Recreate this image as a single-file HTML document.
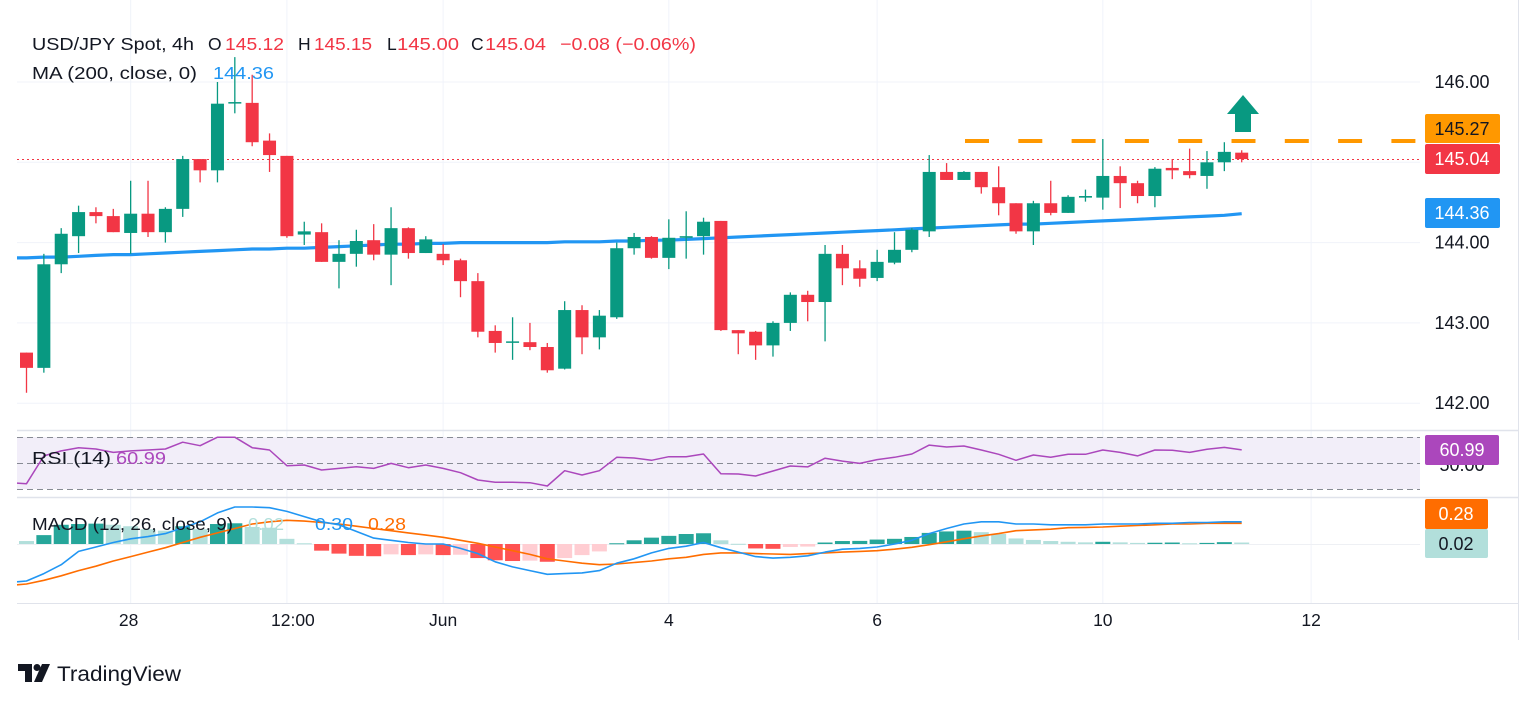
<!DOCTYPE html>
<html><head><meta charset="utf-8"><style>
html,body{margin:0;padding:0;background:#fff;}
svg{display:block;font-family:"Liberation Sans","DejaVu Sans",sans-serif;}
</style></head><body>
<svg id="chart" width="1536" height="704" viewBox="0 0 1536 704" xmlns="http://www.w3.org/2000/svg">
<rect x="0" y="0" width="1536" height="704" fill="#ffffff"/>
<g id="grid"></g>
<rect x="17" y="437" width="1403" height="52" fill="#f2eef9"/>
<g id="rsiLines">
<line x1="17" x2="1420" y1="437.5" y2="437.5" stroke="#878b94" stroke-dasharray="6 4" stroke-width="1"/>
<line x1="17" x2="1420" y1="463.5" y2="463.5" stroke="#878b94" stroke-dasharray="6 4" stroke-width="1"/>
<line x1="17" x2="1420" y1="489.5" y2="489.5" stroke="#878b94" stroke-dasharray="6 4" stroke-width="1"/>
</g>
<g id="panes">
<line x1="17" x2="1518" y1="430.5" y2="430.5" stroke="#e0e3eb" stroke-width="1.5"/>
<line x1="17" x2="1518" y1="497.5" y2="497.5" stroke="#e0e3eb" stroke-width="1.5"/>
<line x1="17" x2="1518" y1="603.5" y2="603.5" stroke="#e0e3eb" stroke-width="1"/>
<line x1="1518.5" x2="1518.5" y1="0" y2="640" stroke="#e0e3eb" stroke-width="1"/>
<line x1="17" x2="1420" y1="544.5" y2="544.5" stroke="#eef0f4" stroke-width="1"/>
</g>
<g id="macdHist"></g>
<g id="macdLines"></g>
<g id="rsiG"></g>
<line x1="17" x2="1420" y1="159.5" y2="159.5" stroke="#f23645" stroke-width="1" stroke-dasharray="2 3"/>
<g id="maG"></g>
<g id="candles"></g>
<line x1="965" x2="1420" y1="141" y2="141" stroke="#ff9800" stroke-width="4" stroke-dasharray="24 29.3"/>
<polygon points="1243,95 1259,114 1251,114 1251,132 1235,132 1235,114 1227,114" fill="#089981"/>

<g font-size="17.5" fill="#131722">
<text x="32" y="50" textLength="162" lengthAdjust="spacingAndGlyphs">USD/JPY Spot, 4h</text>
<text x="208" y="50">O</text><text x="225" y="50" fill="#f23645" textLength="59" lengthAdjust="spacingAndGlyphs">145.12</text>
<text x="298" y="50">H</text><text x="314" y="50" fill="#f23645" textLength="58" lengthAdjust="spacingAndGlyphs">145.15</text>
<text x="387" y="50">L</text><text x="397" y="50" fill="#f23645" textLength="62" lengthAdjust="spacingAndGlyphs">145.00</text>
<text x="471" y="50">C</text><text x="485" y="50" fill="#f23645" textLength="61" lengthAdjust="spacingAndGlyphs">145.04</text>
<text x="560" y="50" fill="#f23645" textLength="136" lengthAdjust="spacingAndGlyphs">−0.08 (−0.06%)</text>
<text x="32" y="79" textLength="165" lengthAdjust="spacingAndGlyphs">MA (200, close, 0)</text>
<text x="213" y="79" fill="#2196f3" textLength="61" lengthAdjust="spacingAndGlyphs">144.36</text>
<text x="32" y="464" textLength="79" lengthAdjust="spacingAndGlyphs">RSI (14)</text>
<text x="116" y="464" fill="#ab47bc" textLength="50" lengthAdjust="spacingAndGlyphs">60.99</text>
<text x="32" y="530" textLength="201" lengthAdjust="spacingAndGlyphs">MACD (12, 26, close, 9)</text>
<text x="248" y="530" fill="#b2dfdb" textLength="36" lengthAdjust="spacingAndGlyphs">0.02</text>
<text x="315" y="530" fill="#2196f3" textLength="38" lengthAdjust="spacingAndGlyphs">0.30</text>
<text x="368" y="530" fill="#ff6d00" textLength="38" lengthAdjust="spacingAndGlyphs">0.28</text>
</g>

<g id="yaxis" font-size="18" fill="#131722"></g>
<g font-size="18">
<rect x="1425" y="114" width="75" height="29" rx="2" fill="#ff9800"/><text x="1462" y="135" text-anchor="middle" fill="#131722">145.27</text>
<rect x="1425" y="144" width="75" height="30" rx="2" fill="#f23645"/><text x="1462" y="165" text-anchor="middle" fill="#fff">145.04</text>
<rect x="1425" y="198" width="75" height="30" rx="2" fill="#2196f3"/><text x="1462" y="219" text-anchor="middle" fill="#fff">144.36</text>
<text x="1462" y="471" text-anchor="middle" fill="#131722">50.00</text>
<rect x="1425" y="435" width="74" height="30" rx="2" fill="#ab47bc"/><text x="1462" y="456" text-anchor="middle" fill="#fff">60.99</text>
<rect x="1425" y="499" width="63" height="30" rx="2" fill="#ff6d00"/><text x="1456" y="520" text-anchor="middle" fill="#fff">0.28</text>
<rect x="1425" y="529" width="63" height="29" rx="2" fill="#b2dfdb"/><text x="1456" y="550" text-anchor="middle" fill="#131722">0.02</text>
</g>
<g id="xaxis" font-size="17.5" fill="#131722"></g>
<g>
<path d="M18 664 h14 v18 h-7 v-11 h-7 z" fill="#131722"/>
<circle cx="37" cy="667.5" r="3.5" fill="#131722"/>
<path d="M42 664 h8 l-8 18 h-8 z" fill="#131722"/>
<text x="57" y="681" font-size="21" fill="#131722" textLength="124" lengthAdjust="spacingAndGlyphs">TradingView</text>
</g>
</svg>
<script>
// ---- data ----
const opens=[142.63,142.44,143.73,144.08,144.38,144.33,144.12,144.36,144.13,144.42,145.04,144.9,145.74,145.74,145.27,145.08,144.1,144.13,143.76,143.86,144.03,143.85,144.18,143.87,143.86,143.78,143.52,142.9,142.76,142.76,142.7,142.43,143.16,142.82,143.07,143.93,144.07,143.81,144.06,144.08,144.27,142.91,142.89,142.72,143.0,143.35,143.26,143.86,143.68,143.56,143.75,143.91,144.14,144.88,144.78,144.88,144.69,144.49,144.14,144.49,144.37,144.56,144.56,144.83,144.74,144.58,144.93,144.89,144.83,145.0,145.12];
const highs=[142.63,143.86,144.18,144.46,144.44,144.42,144.77,144.77,144.44,145.08,145.04,146.0,146.31,146.09,145.36,145.08,144.26,144.24,144.03,144.16,144.23,144.44,144.19,144.08,143.98,143.8,143.62,142.97,143.07,143.0,142.75,143.27,143.22,143.16,144.0,144.12,144.08,144.29,144.39,144.31,144.27,142.91,142.9,143.02,143.38,143.4,143.97,143.97,143.78,143.91,144.13,144.18,145.09,144.99,144.89,144.88,144.95,144.49,144.52,144.77,144.59,144.66,145.29,144.95,144.77,144.94,145.04,145.17,145.14,145.25,145.15];
const lows=[142.13,142.38,143.62,143.87,144.24,144.13,143.86,144.07,144.0,144.32,144.75,144.75,145.61,145.2,144.88,144.06,143.97,143.76,143.43,143.7,143.78,143.47,143.8,143.87,143.72,143.32,142.82,142.63,142.54,142.66,142.38,142.42,142.61,142.67,143.05,143.85,143.8,143.67,143.8,143.85,142.9,142.61,142.54,142.58,142.9,143.02,142.77,143.47,143.45,143.52,143.73,143.88,144.07,144.78,144.78,144.61,144.34,144.11,143.97,144.34,144.37,144.51,144.41,144.43,144.49,144.44,144.79,144.8,144.67,144.89,145.0];
const closes=[142.44,143.73,144.11,144.38,144.33,144.13,144.36,144.13,144.42,145.04,144.9,145.73,145.75,145.25,145.09,144.08,144.14,143.76,143.86,144.02,143.85,144.18,143.87,144.04,143.78,143.52,142.89,142.75,142.77,142.7,142.41,143.16,142.82,143.09,143.93,144.07,143.81,144.06,144.08,144.26,142.91,142.87,142.72,143.0,143.35,143.26,143.86,143.68,143.55,143.76,143.91,144.16,144.88,144.78,144.88,144.69,144.49,144.14,144.49,144.37,144.57,144.58,144.83,144.74,144.58,144.92,144.9,144.84,145.0,145.13,145.04];
const ma200=[143.81,143.82,143.82,143.83,143.84,143.85,143.85,143.86,143.87,143.88,143.89,143.9,143.91,143.92,143.92,143.93,143.93,143.94,143.95,143.96,143.97,143.98,143.98,143.99,143.99,144.0,144.0,144.0,144.0,144.0,144.0,144.01,144.01,144.01,144.02,144.02,144.03,144.03,144.04,144.05,144.06,144.07,144.08,144.09,144.1,144.11,144.12,144.13,144.14,144.15,144.16,144.17,144.18,144.19,144.2,144.21,144.22,144.23,144.23,144.24,144.25,144.26,144.27,144.28,144.29,144.3,144.31,144.32,144.33,144.34,144.36];
const rsi=[34.6,56.3,60.2,62.7,61.7,59.1,60.2,60.9,61.7,67.0,64.3,70.9,70.9,62.7,60.9,48.7,49.2,45.3,46.6,47.9,46.6,50.5,47.1,49.2,46.6,43.2,37.5,35.7,35.7,35.4,32.8,44.8,41.4,44.8,55.2,54.7,52.9,55.7,55.7,57.8,42.4,42.2,40.6,44.5,48.4,47.7,54.5,52.3,50.5,53.4,55.2,57.8,64.8,63.3,64.1,60.9,57.6,52.9,57.0,55.2,57.6,57.6,60.9,59.1,56.3,60.9,60.7,59.1,61.5,63.0,61.0];
const macd=[-0.50,-0.40,-0.28,-0.10,-0.04,0.02,0.07,0.10,0.14,0.22,0.30,0.42,0.50,0.50,0.49,0.44,0.37,0.30,0.26,0.17,0.08,0.05,0.02,0.0,0.0,-0.06,-0.13,-0.24,-0.31,-0.36,-0.41,-0.40,-0.39,-0.36,-0.26,-0.20,-0.12,-0.06,-0.03,0.02,-0.05,-0.11,-0.17,-0.19,-0.18,-0.16,-0.11,-0.07,-0.06,-0.04,0.0,0.05,0.14,0.21,0.27,0.30,0.30,0.27,0.27,0.26,0.26,0.26,0.27,0.27,0.27,0.28,0.28,0.29,0.29,0.30,0.30];
const signal=[-0.54,-0.49,-0.43,-0.36,-0.30,-0.23,-0.17,-0.11,-0.05,0.02,0.09,0.15,0.21,0.27,0.30,0.32,0.31,0.29,0.27,0.24,0.21,0.18,0.15,0.12,0.09,0.05,0.01,-0.04,-0.09,-0.14,-0.20,-0.23,-0.26,-0.28,-0.27,-0.25,-0.23,-0.20,-0.18,-0.14,-0.12,-0.12,-0.13,-0.135,-0.14,-0.13,-0.12,-0.11,-0.10,-0.09,-0.07,-0.045,-0.01,0.03,0.07,0.11,0.14,0.18,0.19,0.20,0.22,0.225,0.23,0.24,0.25,0.26,0.27,0.27,0.28,0.28,0.28];
const hist=[0.04,0.12,0.26,0.27,0.275,0.26,0.24,0.20,0.18,0.24,0.20,0.27,0.28,0.23,0.22,0.07,0.01,-0.09,-0.13,-0.16,-0.165,-0.14,-0.15,-0.14,-0.15,-0.145,-0.19,-0.22,-0.23,-0.225,-0.24,-0.19,-0.15,-0.10,0.01,0.05,0.086,0.11,0.135,0.145,0.05,0.003,-0.06,-0.065,-0.04,-0.035,0.02,0.04,0.042,0.06,0.07,0.095,0.15,0.17,0.18,0.16,0.135,0.075,0.055,0.04,0.03,0.022,0.03,0.022,0.015,0.017,0.02,0.01,0.015,0.025,0.02];
// values of the bar just before the visible window (line enters at left edge)
const prevRsi=[35.5];
const prevMacd=[-0.52];
const prevSignal=[-0.56];
const priceTicks=[146,145,144,143,142];
const priceTickLabels=["146.00","","144.00","143.00","142.00"];
const timeTickIdx=[6,15,24,37,49,62,74];
const timeTickLabels=["28","12:00","Jun","4","6","10","12"];

// ---- scales ----
const NS="http://www.w3.org/2000/svg";
function xAt(i){return 26.5+i*17.36;}
function yP(p){return 82+(146-p)*80.3;}
function yR(r){return 464-(r-50)*1.28;}
function yM(v){return 544-v*74;}
function mk(tag,attrs,parent){const e=document.createElementNS(NS,tag);for(const k in attrs)e.setAttribute(k,attrs[k]);parent.appendChild(e);return e;}

const grid=document.getElementById('grid');
priceTicks.forEach(p=>{
  const l=mk('line',{x1:17,x2:1420,y1:yP(p),y2:yP(p),stroke:'#f0f3fa','stroke-width':1},grid);
  
  
});
const xaxis=document.getElementById('xaxis');
timeTickIdx.forEach((ti,k)=>{
  const x=xAt(ti);
  const l=mk('line',{x1:x,x2:x,y1:0,y2:603,stroke:'#f0f3fa','stroke-width':1},grid);
  
  
  const t=mk('text',{x:x-(k===0?2:0)+(k===1?6:0),y:626,'text-anchor':'middle'},xaxis);
  t.textContent=timeTickLabels[k];
  
  
});
const yaxis=document.getElementById('yaxis');
priceTicks.forEach((p,k)=>{
  if(!priceTickLabels[k])return;
  const t=mk('text',{x:1462,y:yP(p)+6,'text-anchor':'middle'},yaxis);
  t.textContent=priceTickLabels[k];
  
  
});

// candles
const cg=document.getElementById('candles');
for(let i=0;i<opens.length;i++){
  const up=closes[i]>=opens[i];
  const col=up?'#089981':'#f23645';
  const x=xAt(i);
  const g=mk('g',{},cg);
  
  
  mk('line',{x1:x,x2:x,y1:yP(highs[i]),y2:yP(lows[i]),stroke:col,'stroke-width':1.3},g);
  const top=yP(Math.max(opens[i],closes[i])),bot=yP(Math.min(opens[i],closes[i]));
  mk('rect',{x:x-6.5,y:top,width:13,height:Math.max(1.5,bot-top),fill:col},g);
}

// line helper: optional previous value is drawn from left edge (x=17)
function poly(arr,prev,fy,parent,stroke,w,name){
  let pts=arr.map((v,i)=>[xAt(i),fy(v)]);
  if(prev!==null){
    const x0=xAt(-1),y0=fy(prev),x1=pts[0][0],y1=pts[0][1];
    const t=(17-x0)/(x1-x0);
    pts.unshift([17,y0+(y1-y0)*t]);
  }
  const pl=mk('polyline',{points:pts.map(p=>p[0].toFixed(1)+','+p[1].toFixed(1)).join(' '),fill:'none',stroke:stroke,'stroke-width':w,'stroke-linejoin':'round'},parent);
  
  
  return pl;
}
poly(ma200,ma200[0],yP,document.getElementById('maG'),'#2196f3',3.2,'ma-200-line');
poly(rsi,prevRsi[0],yR,document.getElementById('rsiG'),'#ab47bc',1.5,'rsi-line');

// MACD hist
const hg=document.getElementById('macdHist');
for(let i=0;i<hist.length;i++){
  const h=hist[i],prev=i>0?hist[i-1]:null;
  let col;
  if(h>=0) col=(prev!==null&&h>=prev)?'#26a69a':'#b2dfdb';
  else col=(prev!==null&&h<prev)?'#ff5252':'#ffcdd2';
  const y0=yM(0),y1=yM(h);
  const r=mk('rect',{x:xAt(i)-7.5,y:Math.min(y0,y1),width:15,height:Math.max(1,Math.abs(y1-y0)),fill:col},hg);
  
  
}
const ml=document.getElementById('macdLines');
poly(signal,prevSignal[0],yM,ml,'#ff6d00',1.6,'macd-signal-line');
poly(macd,prevMacd[0],yM,ml,'#2196f3',1.6,'macd-line');
</script>
</body></html>
